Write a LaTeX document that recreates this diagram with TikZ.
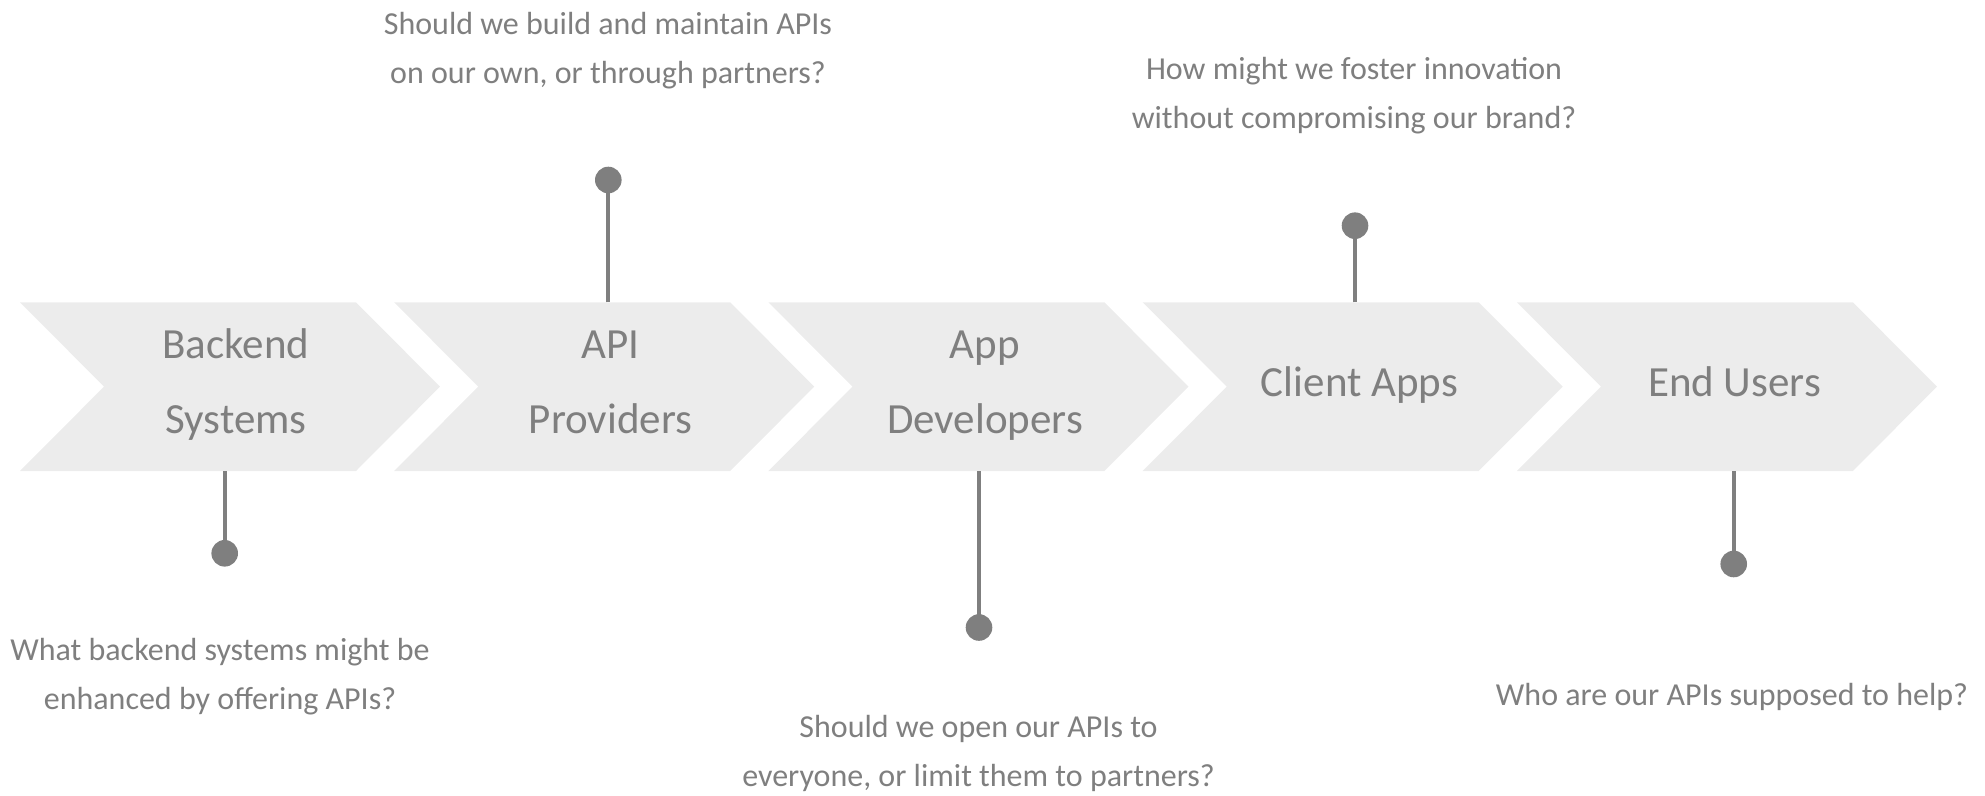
\documentclass[tikz,border=0pt]{standalone}
\usepackage{fontspec}
\setmainfont{Carlito}
\definecolor{txtgray}{HTML}{7F7F7F}
\definecolor{chevfill}{HTML}{ECECEC}
\definecolor{pingray}{HTML}{7F7F7F}
\begin{document}
\begin{tikzpicture}[x=0.5pt,y=-0.5pt,
  chev/.style={fill=chevfill,draw=none},
  lbl/.style={text=txtgray,font=\fontsize{21.5}{37}\selectfont,align=center,inner sep=0pt,anchor=base},
  qtext/.style={text=txtgray,font=\fontsize{16}{24.5}\selectfont,align=center,inner sep=0pt,anchor=base},
  dot/.style={circle,fill=pingray,draw=none,minimum size=13.3pt,inner sep=0pt},
  pinline/.style={draw=pingray,line width=2pt}]
\useasboundingbox (0,0) rectangle (1985,796);
% chevrons
\foreach \L in {20,394.2,768.4,1142.7,1516.9}{
  \fill[chev] (\L,302.3) -- ++(336,0) -- ++(84,84.35) -- ++(-84,84.35) -- ++(-336,0) -- ++(84,-84.35) -- cycle;
}
% labels (anchor base = last line's baseline)
\node[lbl] (l1) at (236,433) {Backend\\Systems};
\node[lbl] (l2) at (610.5,433) {API\\Providers};
\node[lbl] (l3) at (985,433) {App\\Developers};
\node[lbl] (l4) at (1359.5,396.5) {Client Apps};
\node[lbl] (l5) at (1734.5,396.5) {End Users};
% edge coordinates
\coordinate (e1) at (224.7,471);
\coordinate (e2) at (608.3,302.3);
\coordinate (e3) at (979,471);
\coordinate (e4) at (1355,302.3);
\coordinate (e5) at (1733.7,471);
% dots
\node[dot] (d1) at (224.7,553.3) {};
\node[dot] (d2) at (608.3,180) {};
\node[dot] (d3) at (979,627.5) {};
\node[dot] (d4) at (1355,225.7) {};
\node[dot] (d5) at (1733.7,564) {};
\draw[pinline] (e1) -- (d1.center);
\draw[pinline] (e2) -- (d2.center);
\draw[pinline] (e3) -- (d3.center);
\draw[pinline] (e4) -- (d4.center);
\draw[pinline] (e5) -- (d5.center);
% questions
\node[qtext] (q1) at (220,709) {What backend systems might be\\enhanced by offering APIs?};
\node[qtext] (q2) at (608,84) {Should we build and maintain APIs\\on our own, or through partners?};
\node[qtext] (q3) at (978.5,786) {Should we open our APIs to\\everyone, or limit them to partners?};
\node[qtext] (q4) at (1354,128.3) {How might we foster innovation\\without compromising our brand?};
\node[qtext] (q5) at (1732,705) {Who are our APIs supposed to help?};
\end{tikzpicture}
\end{document}
